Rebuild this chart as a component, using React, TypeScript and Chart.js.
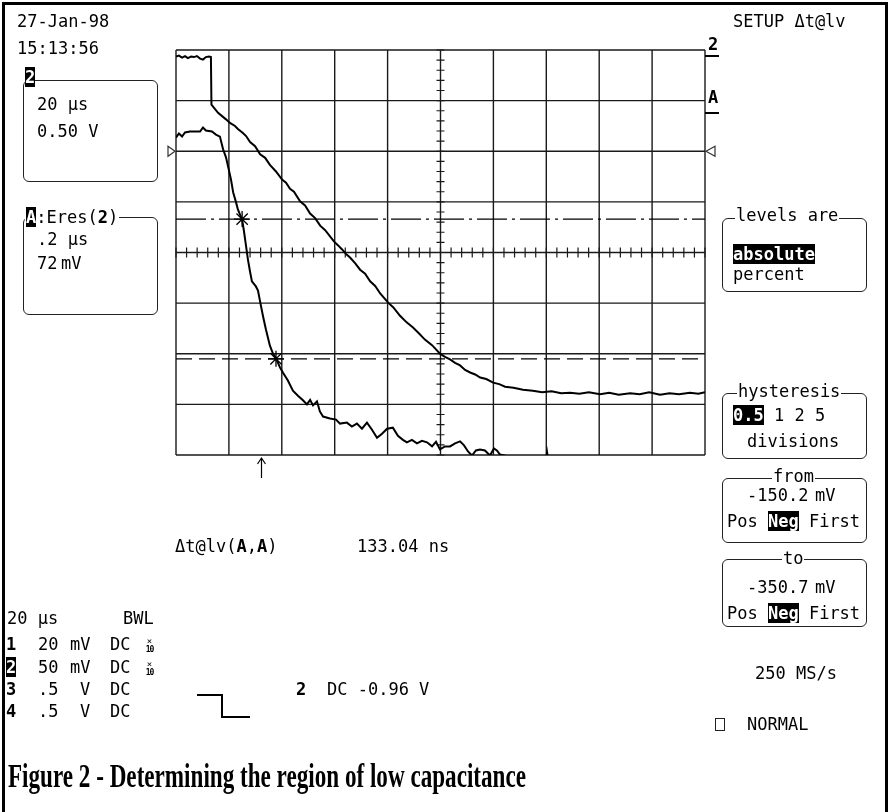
import React, { useEffect, useRef } from "react";
import { Chart, registerables } from "chart.js";
Chart.register(...registerables);

// Time axis: 20 µs / division, 10 divisions. Vertical: divisions (8 div screen).
const X_MIN = 0;
const X_MAX = 200;
const X_STEP = 20;
const Y_MIN = -4;
const Y_MAX = 4;

const trace2Time = [0,1.1,2.3,3.4,4.5,5.7,6.8,7.9,9.1,10.2,11.3,12.5,13.2,13.4,15.9,18.9,20.4,22.3,23.4,25.3,26.5,28.0,29.9,31.8,33.7,35.5,37.8,40.1,41.6,43.1,44.6,46.9,48.8,50.7,52.6,54.5,56.4,59.7,61.3,62.8,64.3,65.8,67.7,69.6,71.5,73.4,75.3,77.2,80.2,82.1,84.7,87.2,89.6,91.9,94.1,96.8,99.8,101.7,103.6,105.5,107.4,109.3,111.2,113.1,115.0,117.3,119.9,122.2,124.4,127.6,131.2,134.9,138.4,142.0,145.6,149.0,152.5,156.1,160.3,163.8,167.4,171.7,175.3,178.9,183.0,186.6,190.2,194.3,197.5,200];
const trace2Level = [3.87,3.89,3.85,3.88,3.84,3.87,3.86,3.88,3.83,3.81,3.86,3.87,3.86,2.92,2.76,2.63,2.56,2.50,2.44,2.36,2.30,2.18,2.10,1.94,1.87,1.73,1.60,1.44,1.38,1.26,1.20,1.01,0.93,0.77,0.68,0.53,0.44,0.22,0.14,0.06,-0.03,-0.10,-0.21,-0.34,-0.42,-0.57,-0.66,-0.81,-0.99,-1.08,-1.25,-1.38,-1.48,-1.60,-1.72,-1.83,-2.00,-2.06,-2.11,-2.18,-2.23,-2.32,-2.37,-2.41,-2.47,-2.50,-2.57,-2.60,-2.65,-2.67,-2.71,-2.73,-2.76,-2.74,-2.78,-2.77,-2.79,-2.76,-2.80,-2.77,-2.81,-2.78,-2.80,-2.76,-2.81,-2.78,-2.80,-2.77,-2.79,-2.76];

const traceATime = [0,1.1,2.3,3.4,5.3,7.2,9.1,10.2,11.3,13.6,15.1,16.6,17.8,18.9,19.7,20.8,21.6,22.7,23.4,24.2,25.0,25.7,26.5,27.2,28.0,28.7,30.2,31.0,31.8,32.9,34.0,35.5,36.7,37.8,39.3,40.4,42.3,44.2,46.1,48.0,49.5,50.7,51.8,53.3,54.4,55.6,58.2,60.5,62.0,64.6,66.5,68.4,70.3,72.2,74.1,76.0,77.9,79.8,82.0,83.9,85.8,87.3,89.2,91.1,93.0,94.9,96.8,98.3,99.8,101.7,103.6,105.5,107.4,108.9,110.4,111.9,113.4,114.9,116.8,118.7,120.2,121.3,122.5,124.4,126.0,139.3,140.3,141.3,143.0,200];
const traceALevel = [2.27,2.35,2.29,2.37,2.39,2.39,2.39,2.47,2.41,2.39,2.33,2.29,2.04,1.88,1.70,1.44,1.19,0.99,0.85,0.75,0.65,0.42,0.12,-0.14,-0.38,-0.57,-0.67,-0.75,-0.97,-1.26,-1.52,-1.84,-2.00,-2.09,-2.27,-2.37,-2.53,-2.73,-2.83,-2.92,-3.00,-2.91,-3.02,-2.94,-3.14,-3.24,-3.28,-3.30,-3.38,-3.36,-3.44,-3.38,-3.48,-3.36,-3.50,-3.66,-3.58,-3.48,-3.46,-3.62,-3.70,-3.75,-3.70,-3.77,-3.72,-3.75,-3.83,-3.74,-3.89,-3.83,-3.83,-3.77,-3.73,-3.81,-3.93,-4.01,-3.91,-3.89,-3.91,-4.01,-3.87,-3.91,-3.99,-4.01,-4.3,-4.3,-3.95,-4.3,-4.3,-4.3];

const levelFrom = 0.66;
const levelTo = -2.1;
const crossTime = [25.0, 37.8];
const crossLevel = [0.66, -2.1];
const markerTime = 32.1;
const refLevel = 2.0;

const MONO = '"DejaVu Sans Mono", monospace';

const scopePlugin = {
  id: "scopeGrid",
  beforeDatasetsDraw(chart: any) {
    const { ctx, chartArea: a, scales } = chart;
    const xs = scales.x;
    const ys = scales.y;
    ctx.save();
    ctx.strokeStyle = "#1a1a1a";
    ctx.lineWidth = 1.4;
    ctx.beginPath();
    for (let i = 0; i <= (X_MAX - X_MIN) / X_STEP; i++) {
      const px = xs.getPixelForValue(X_MIN + i * X_STEP);
      ctx.moveTo(px, a.top);
      ctx.lineTo(px, a.bottom);
    }
    for (let v = Y_MIN; v <= Y_MAX; v++) {
      const py = ys.getPixelForValue(v);
      ctx.moveTo(a.left, py);
      ctx.lineTo(a.right, py);
    }
    ctx.stroke();
    // minor ticks on the centre axes
    const cx = xs.getPixelForValue((X_MIN + X_MAX) / 2);
    const cy = ys.getPixelForValue(0);
    ctx.lineWidth = 1.2;
    ctx.beginPath();
    for (let i = 0; i <= 40; i++) {
      const py = ys.getPixelForValue(Y_MIN + i * 0.2);
      ctx.moveTo(cx - 4, py);
      ctx.lineTo(cx + 4, py);
    }
    for (let i = 0; i <= 50; i++) {
      const px = xs.getPixelForValue(X_MIN + i * 4);
      ctx.moveTo(px, cy - 5);
      ctx.lineTo(px, cy + 5);
    }
    ctx.stroke();
    ctx.restore();
  },
  afterDraw(chart: any) {
    const { ctx, chartArea: a, scales } = chart;
    const ty = chart.scales.y.getPixelForValue(refLevel);
    ctx.save();
    ctx.strokeStyle = "#333";
    ctx.lineWidth = 1.2;
    // left triangle (points right)
    ctx.beginPath();
    ctx.moveTo(a.left - 8, ty - 5);
    ctx.lineTo(a.left - 1, ty);
    ctx.lineTo(a.left - 8, ty + 5);
    ctx.closePath();
    ctx.stroke();
    // right triangle (points left)
    ctx.beginPath();
    ctx.moveTo(a.right + 10, ty - 5);
    ctx.lineTo(a.right + 1, ty);
    ctx.lineTo(a.right + 10, ty + 5);
    ctx.closePath();
    ctx.stroke();
    // arrow under the grid
    const ax = Math.round(scales.x.getPixelForValue(markerTime)) + 0.5;
    ctx.strokeStyle = "#000";
    ctx.beginPath();
    ctx.moveTo(ax, a.bottom + 3);
    ctx.lineTo(ax, a.bottom + 23);
    ctx.moveTo(ax - 4, a.bottom + 9);
    ctx.lineTo(ax, a.bottom + 3);
    ctx.lineTo(ax + 4, a.bottom + 9);
    ctx.stroke();
    ctx.restore();
  },
};

function Txt({ x, y, children, bold, size, style }: any) {
  return (
    <div
      style={{
        position: "absolute",
        left: x,
        top: y - 2,
        fontFamily: MONO,
        fontSize: size || 17,
        lineHeight: "17px",
        fontWeight: bold ? "bold" : "normal",
        whiteSpace: "pre",
        color: "#000",
        ...style,
      }}
    >
      {children}
    </div>
  );
}

function Inv({ children }: any) {
  return (
    <span style={{ background: "#000", color: "#fff", fontWeight: "bold" }}>{children}</span>
  );
}

function Box({ x, y, w, h }: any) {
  return (
    <div
      style={{
        position: "absolute",
        left: x,
        top: y,
        width: w,
        height: h,
        border: "1.5px solid #222",
        borderRadius: 6,
        boxSizing: "border-box",
      }}
    />
  );
}

function Label({ x, y, children }: any) {
  return (
    <Txt x={x} y={y}>
      <span style={{ background: "#fff", padding: "0 1px" }}>{children}</span>
    </Txt>
  );
}

function Line({ x, y, w, h }: any) {
  return <div style={{ position: "absolute", left: x, top: y, width: w, height: h, background: "#000" }} />;
}

function X10({ x, y }: any) {
  return (
    <div style={{ position: "absolute", left: x, top: y, fontFamily: MONO, fontSize: 9, lineHeight: "8px", textAlign: "center", width: 9 }}>
      ×<br />
      <span style={{ fontWeight: "bold", fontSize: 8, letterSpacing: -1 }}>10</span>
    </div>
  );
}

export default function App() {
  const ref = useRef<HTMLCanvasElement | null>(null);
  useEffect(() => {
    if (!ref.current) return;
    const trace2 = trace2Time.map((t, i) => ({ x: t, y: trace2Level[i] }));
    const traceA = traceATime.map((t, i) => ({ x: t, y: traceALevel[i] }));
    const crosses = crossTime.map((t, i) => ({ x: t, y: crossLevel[i] }));
    const chart = new Chart(ref.current, {
      type: "scatter",
      data: {
        datasets: [
          { data: trace2, showLine: true, borderColor: "#000", borderWidth: 2, pointRadius: 0, tension: 0 },
          { data: traceA, showLine: true, borderColor: "#000", borderWidth: 2, pointRadius: 0, tension: 0 },
          {
            data: [{ x: X_MIN, y: levelFrom }, { x: X_MAX, y: levelFrom }],
            showLine: true, borderColor: "#000", borderWidth: 1.3, borderDash: [30, 5, 3, 5], pointRadius: 0,
          },
          {
            data: [{ x: X_MIN, y: levelTo }, { x: X_MAX, y: levelTo }],
            showLine: true, borderColor: "#000", borderWidth: 1.3, borderDash: [16, 7], pointRadius: 0,
          },
          {
            data: crosses, showLine: false, pointStyle: "star", pointRadius: 8,
            borderColor: "#000", borderWidth: 1.3, backgroundColor: "transparent",
          },
        ],
      } as any,
      options: {
        responsive: false,
        animation: false,
        events: [],
        layout: { padding: { left: 176, top: 50, right: 185, bottom: 357 } },
        scales: {
          x: { type: "linear", min: X_MIN, max: X_MAX, display: false },
          y: { type: "linear", min: Y_MIN, max: Y_MAX, display: false },
        },
        plugins: { legend: { display: false }, tooltip: { enabled: false } },
      } as any,
      plugins: [scopePlugin],
    });
    return () => chart.destroy();
  }, []);

  return (
    <div style={{ position: "absolute", left: 0, top: 0, width: 890, height: 812, background: "#fff", overflow: "hidden" }}>
      <canvas ref={ref} width={890} height={812} style={{ position: "absolute", left: 0, top: 0 }} />
      {/* outer frame */}
      <div style={{ position: "absolute", left: 2, top: 2, width: 886, height: 830, borderLeft: "3px solid #000", borderTop: "3px solid #000", borderRight: "3px solid #000", boxSizing: "border-box" }} />

      <Txt x={17} y={15}>27-Jan-98</Txt>
      <Txt x={17} y={42}>15:13:56</Txt>

      <Box x={23} y={80} w={135} h={102} />
      <Txt x={25} y={71}><Inv>2</Inv></Txt>
      <Txt x={37} y={98}>20 μs</Txt>
      <Txt x={37} y={125}>0.50 V</Txt>

      <Box x={23} y={217} w={135} h={98} />
      <Label x={25} y={211}><Inv>A</Inv>:Eres(<b>2</b>)</Label>
      <Txt x={37} y={233}>.2 μs</Txt>
      <Txt x={37} y={257}>72</Txt>
      <Txt x={61} y={257}>mV</Txt>

      <Txt x={733} y={15}>SETUP Δt@lv</Txt>
      <Txt x={708} y={38} bold>2</Txt>
      <Line x={705} y={55} w={14} h={2} />
      <Txt x={708} y={91} bold>A</Txt>
      <Line x={705} y={112} w={14} h={2} />

      <Box x={722} y={218} w={145} h={74} />
      <Label x={735} y={209}>levels are</Label>
      <Txt x={733} y={248}><Inv>absolute</Inv></Txt>
      <Txt x={733} y={268}>percent</Txt>

      <Box x={722} y={393} w={145} h={66} />
      <Label x={737} y={385}>hysteresis</Label>
      <Txt x={733} y={409}><Inv>0.5</Inv> 1 2 5</Txt>
      <Txt x={747} y={435}>divisions</Txt>

      <Box x={722} y={478} w={145} h={65} />
      <Label x={772} y={470}>from</Label>
      <Txt x={747} y={489}>-150.2</Txt>
      <Txt x={815} y={489}>mV</Txt>
      <Txt x={727} y={515}>Pos <Inv>Neg</Inv> First</Txt>

      <Box x={722} y={559} w={145} h={68} />
      <Label x={782} y={552}>to</Label>
      <Txt x={747} y={581}>-350.7</Txt>
      <Txt x={815} y={581}>mV</Txt>
      <Txt x={727} y={607}>Pos <Inv>Neg</Inv> First</Txt>

      <Txt x={755} y={667}>250 MS/s</Txt>
      <div style={{ position: "absolute", left: 715, top: 718, width: 10, height: 13, border: "1.5px solid #222", boxSizing: "border-box" }} />
      <Txt x={747} y={718}>NORMAL</Txt>

      <Txt x={175} y={540}>Δt@lv(<b>A</b>,<b>A</b>)</Txt>
      <Txt x={357} y={540}>133.04 ns</Txt>

      <Txt x={7} y={612}>20 μs</Txt>
      <Txt x={123} y={612}>BWL</Txt>

      <Txt x={6} y={638} bold>1</Txt>
      <Txt x={38} y={638}>20</Txt>
      <Txt x={70} y={638}>mV</Txt>
      <Txt x={110} y={638}>DC</Txt>
      <X10 x={145} y={637} />

      <Txt x={6} y={661}><Inv>2</Inv></Txt>
      <Txt x={38} y={661}>50</Txt>
      <Txt x={70} y={661}>mV</Txt>
      <Txt x={110} y={661}>DC</Txt>
      <X10 x={145} y={660} />

      <Txt x={6} y={683} bold>3</Txt>
      <Txt x={38} y={683}>.5</Txt>
      <Txt x={80} y={683}>V</Txt>
      <Txt x={110} y={683}>DC</Txt>

      <Txt x={6} y={705} bold>4</Txt>
      <Txt x={38} y={705}>.5</Txt>
      <Txt x={80} y={705}>V</Txt>
      <Txt x={110} y={705}>DC</Txt>

      <Line x={197} y={694} w={25} h={1.5} />
      <Line x={221} y={694} w={1.5} h={23} />
      <Line x={221} y={716} w={29} h={1.5} />

      <Txt x={296} y={683} bold>2</Txt>
      <Txt x={327} y={683}>DC -0.96 V</Txt>

      <div
        style={{
          position: "absolute",
          left: 8,
          top: 759,
          fontFamily: '"Liberation Serif", "Times New Roman", serif',
          fontWeight: "bold",
          fontSize: 34,
          lineHeight: "34px",
          whiteSpace: "pre",
          transform: "scaleX(0.68)",
          transformOrigin: "left top",
          color: "#000",
        }}
      >
        Figure 2 - Determining the region of low capacitance
      </div>
    </div>
  );
}
